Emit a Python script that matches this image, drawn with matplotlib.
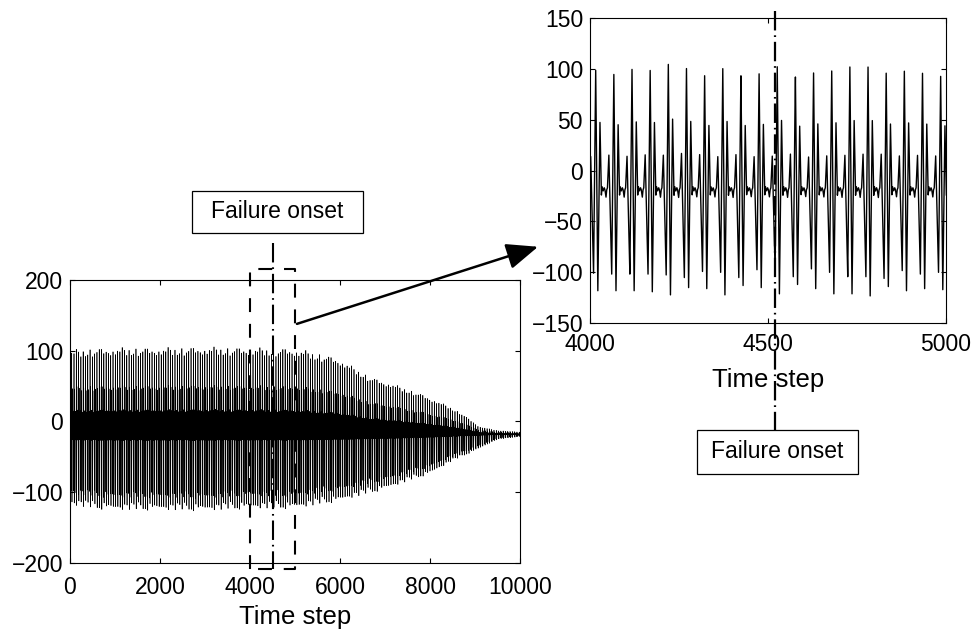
import numpy as np
import matplotlib
matplotlib.use("Agg")
import matplotlib.pyplot as plt
from matplotlib.patches import Rectangle

plt.rcParams['font.family'] = ['Liberation Sans', 'DejaVu Sans']
plt.rcParams['lines.scale_dashes'] = False

# ---------------- data ----------------
PERIOD = 51            # time steps per cycle
PEAK0 = 4016           # time of first large peak inside the zoom window
BASE = -18             # resting level of the signal
FAILURE_ONSET = 4520

# one cycle of the waveform (phase in time steps relative to big positive peak)
shape_phase = [0, 6, 12, 16, 18, 21, 24, 26, 29, 31, 33, 37, 45, 51]
shape_value = [98, -116, 47, -24, -16, -20, -17, -19, -26, -19, -17, 15, -100, 98]

# per-cycle peak / trough values read in the 4000-5000 window
cycle_peaks = [98, 94, 99, 98, 104, 100, 93, 100, 93, 95,
               102, 92, 96, 98, 102, 102, 96, 98, 96, 93]
cycle_troughs = [-116, -116, -116, -117, -120, -113, -114, -120, -111, -113,
                 -119, -110, -114, -119, -119, -121, -112, -116, -114, -115]

# envelopes over the full record
upper_time = [0, 500, 1000, 2000, 3000, 4000, 5000, 5500, 6000, 6300, 6700,
              7100, 7800, 8400, 8700, 9100, 9500, 10000]
upper_env = [95, 97, 98, 98, 99, 98, 97, 91, 83, 72, 58, 51, 36, 20, 10, -8, -13, -15]
lower_time = [0, 500, 1000, 2000, 3000, 4000, 5000, 6000, 7000, 8000,
              8500, 9000, 9500, 10000]
lower_env = [-113, -118, -120, -120, -121, -118, -118, -108, -92, -71,
             -54, -40, -25, -21]

left_xticks = [0, 2000, 4000, 6000, 8000, 10000]
left_yticks = [-200, -100, 0, 100, 200]
right_xticks = [4000, 4500, 5000]
right_yticks = [-150, -100, -50, 0, 50, 100, 150]
xlabel = "Time step"
box_label = "Failure onset"

# ---------------- build signal from the read values ----------------
t = np.arange(0, 10001)
rel = t - PEAK0
k = np.floor_divide(rel, PERIOD)
ph = rel - k * PERIOD
shape = np.interp(ph, shape_phase, shape_value)
idx = k % len(cycle_peaks)
pkf = (np.array(cycle_peaks)[idx] - BASE) / (np.mean(cycle_peaks) - BASE)
trf = (BASE - np.array(cycle_troughs)[idx]) / (BASE - np.mean(cycle_troughs))
hi = (np.interp(t, upper_time, upper_env) - BASE) / (98 - BASE)
lo = (BASE - np.interp(t, lower_time, lower_env)) / (BASE + 116)
dev = shape - BASE
y = BASE + np.where(dev > 0, dev * hi * pkf, dev * lo * trf)

# ---------------- figure ----------------
W, H = 977, 632
fig = plt.figure(figsize=(W / 100, H / 100), dpi=100)

def fx(px):
    return px / W

def fy(py):
    return 1 - py / H

ax1 = fig.add_axes([fx(70), fy(563), fx(450), (563 - 280) / H])
ax2 = fig.add_axes([fx(590), fy(323), fx(356), (323 - 18) / H])

FS = 16.5
LFS = 18.5
BFS = 16.5
for ax in (ax1, ax2):
    ax.tick_params(direction='in', top=True, right=True, length=3.5,
                   width=0.8, labelsize=FS)
    for s in ax.spines.values():
        s.set_linewidth(0.8)

# left: full record
ax1.plot(t, y, color='black', lw=0.45)
ax1.set_xlim(0, 10000)
ax1.set_ylim(-200, 200)
ax1.set_xticks(left_xticks)
ax1.set_yticks(left_yticks)
ax1.tick_params(axis='x', pad=9)
ax1.tick_params(axis='y', pad=5)
ax1.set_xlabel(xlabel, fontsize=LFS, labelpad=5)

# right: zoom window
ax2.plot(t, y, color='black', lw=1.0)
ax2.set_xlim(4000, 5000)
ax2.set_ylim(-150, 150)
ax2.set_xticks(right_xticks)
ax2.set_yticks(right_yticks)
ax2.tick_params(axis='x', pad=7)
ax2.tick_params(axis='y', pad=5)
ax2.set_xlabel(xlabel, fontsize=LFS, labelpad=9)

dashdot = (0, (14, 3.5, 1.2, 3.5))
# dashed zoom box on the left plot
ax1.plot([4000, 4000, 5000, 5000, 4000], [-208, 215, 215, -208, -208],
         color='black', lw=1.5, ls=(0, (10, 8.5)), clip_on=False, zorder=5)
# failure onset lines
ax1.plot([FAILURE_ONSET, FAILURE_ONSET], [252, -208], color='black', lw=1.5,
         ls=dashdot, clip_on=False, zorder=5)
ax2.plot([FAILURE_ONSET, FAILURE_ONSET], [157, -255], color='black', lw=1.6,
         ls=dashdot, clip_on=False, zorder=5)

# arrow from box to zoom window
ax2.annotate("", xy=(3854, -75), xycoords=ax2.transData,
             xytext=(5044, 138), textcoords=ax1.transData,
             arrowprops=dict(arrowstyle='-|>,head_length=0.97,head_width=0.4',
                             mutation_scale=20, lw=1.8, color='black',
                             shrinkA=0, shrinkB=0),
             annotation_clip=False)

# "Failure onset" boxes
def label_box(x0, y0, x1, y1):
    fig.patches.append(Rectangle((fx(x0), fy(y1)), fx(x1 - x0), (y1 - y0) / H,
                                 transform=fig.transFigure, fill=False,
                                 edgecolor='black', lw=0.9))
    fig.text(fx((x0 + x1) / 2), fy((y0 + y1) / 2), box_label, fontsize=BFS,
             ha='center', va='center')

label_box(192, 191, 363, 233)
label_box(697, 430, 858, 474)

fig.savefig("out.png", dpi=100)
